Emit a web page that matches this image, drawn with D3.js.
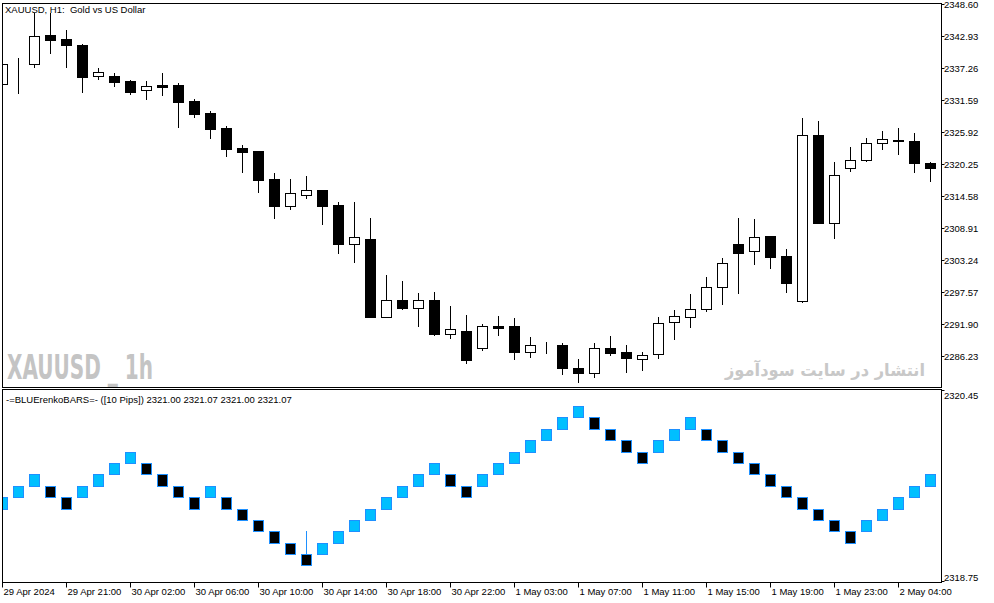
<!DOCTYPE html>
<html>
<head>
<meta charset="utf-8">
<script src="https://cdn.jsdelivr.net/npm/d3@7"></script>
<style>
  body { margin: 0; background: #fff; }
  svg text { font-family: 'Liberation Sans', Arial, sans-serif; font-size: 9.5px; fill: #000; white-space: pre; }
</style>
</head>
<body>
<div id="chart"></div>
<script>
// XAUUSD H1 candles
const candleOpen = [
  2334.30, 2338.12, 2337.84, 2343.08, 2342.32, 2341.31, 2335.83, 2335.77, 2334.89, 2333.24,
  2334.18, 2334.18, 2331.35, 2329.23, 2326.57, 2323.03, 2322.50, 2317.55, 2312.83, 2314.77,
  2315.60, 2312.95, 2306.10, 2306.93, 2293.19, 2296.09, 2294.78, 2296.09, 2290.18, 2290.66,
  2287.70, 2291.54, 2291.54, 2286.89, 2288.12, 2288.18, 2284.06, 2283.28, 2287.60, 2286.94,
  2285.75, 2286.53, 2292.20, 2293.19, 2294.60, 2298.39, 2306.00, 2304.76, 2307.41, 2303.93,
  2295.91, 2325.33, 2309.82, 2319.44, 2320.86, 2323.87, 2324.40, 2324.27, 2320.33
];
const candleHigh = [
  2338.25, 2338.90, 2346.87, 2346.87, 2343.91, 2341.35, 2337.14, 2336.25, 2335.07, 2334.89,
  2336.25, 2334.53, 2331.70, 2329.58, 2326.93, 2323.56, 2322.55, 2318.61, 2317.55, 2318.08,
  2315.65, 2313.43, 2313.43, 2310.65, 2300.56, 2299.50, 2297.33, 2297.50, 2295.08, 2293.49,
  2291.95, 2293.31, 2292.96, 2289.60, 2288.71, 2288.53, 2285.70, 2288.53, 2289.77, 2288.18,
  2286.94, 2293.19, 2294.32, 2297.15, 2300.21, 2303.57, 2310.65, 2310.47, 2307.45, 2305.16,
  2328.34, 2327.86, 2320.56, 2323.16, 2324.75, 2325.99, 2326.52, 2325.63, 2320.61
];
const candleLow = [
  2333.83, 2332.82, 2337.42, 2339.79, 2337.42, 2333.00, 2335.30, 2334.00, 2332.59, 2331.70,
  2332.41, 2326.80, 2328.47, 2324.86, 2321.67, 2318.84, 2315.30, 2310.70, 2312.29, 2314.24,
  2309.64, 2304.51, 2302.92, 2293.15, 2293.15, 2294.60, 2291.59, 2290.00, 2289.47, 2285.05,
  2287.29, 2290.00, 2285.70, 2286.11, 2286.82, 2283.05, 2281.63, 2282.57, 2286.46, 2283.46,
  2283.75, 2285.83, 2289.19, 2291.42, 2294.25, 2295.38, 2297.43, 2302.56, 2301.86, 2297.61,
  2295.73, 2309.80, 2307.06, 2319.02, 2320.80, 2322.91, 2321.92, 2318.84, 2317.25
];
const candleClose = [
  2337.84, 2338.14, 2342.85, 2342.19, 2341.31, 2335.65, 2336.48, 2334.76, 2333.00, 2333.95,
  2333.88, 2331.23, 2329.10, 2326.45, 2322.91, 2322.33, 2317.43, 2312.83, 2315.07, 2315.60,
  2312.83, 2306.10, 2307.23, 2293.19, 2296.09, 2294.78, 2296.09, 2290.18, 2290.96, 2285.53,
  2291.54, 2291.24, 2286.99, 2288.13, 2288.14, 2284.16, 2283.28, 2287.60, 2286.82, 2285.93,
  2286.36, 2292.02, 2293.26, 2294.60, 2298.39, 2302.63, 2304.51, 2307.23, 2303.80, 2299.20,
  2325.28, 2309.82, 2318.20, 2320.86, 2323.87, 2324.57, 2324.22, 2320.33, 2319.55
];

// BLUErenkoBARS indicator bricks (one per bar)
const renkoOpen = [
  2319.40, 2319.50, 2319.60, 2319.60, 2319.50, 2319.50, 2319.60, 2319.70, 2319.80, 2319.80,
  2319.70, 2319.60, 2319.50, 2319.50, 2319.50, 2319.40, 2319.30, 2319.20, 2319.10, 2319.00,
  2319.00, 2319.10, 2319.20, 2319.30, 2319.40, 2319.50, 2319.60, 2319.70, 2319.70, 2319.60,
  2319.60, 2319.70, 2319.80, 2319.90, 2320.00, 2320.10, 2320.20, 2320.20, 2320.10, 2320.00,
  2319.90, 2319.90, 2320.00, 2320.10, 2320.10, 2320.00, 2319.90, 2319.80, 2319.70, 2319.60,
  2319.50, 2319.40, 2319.30, 2319.20, 2319.20, 2319.30, 2319.40, 2319.50, 2319.60
];
const renkoClose = [
  2319.50, 2319.60, 2319.70, 2319.50, 2319.40, 2319.60, 2319.70, 2319.80, 2319.90, 2319.70,
  2319.60, 2319.50, 2319.40, 2319.60, 2319.40, 2319.30, 2319.20, 2319.10, 2319.00, 2318.90,
  2319.10, 2319.20, 2319.30, 2319.40, 2319.50, 2319.60, 2319.70, 2319.80, 2319.60, 2319.50,
  2319.70, 2319.80, 2319.90, 2320.00, 2320.10, 2320.20, 2320.30, 2320.10, 2320.00, 2319.90,
  2319.80, 2320.00, 2320.10, 2320.20, 2320.00, 2319.90, 2319.80, 2319.70, 2319.60, 2319.50,
  2319.40, 2319.30, 2319.20, 2319.10, 2319.30, 2319.40, 2319.50, 2319.60, 2319.70
];
// only one brick shows a wick
const renkoWick = [{ bar: 19, high: 2319.20 }];

const priceTicks = [2348.60, 2342.93, 2337.26, 2331.59, 2325.92, 2320.25, 2314.58, 2308.91, 2303.24, 2297.57, 2291.90, 2286.23];
const renkoTicks = [2320.45, 2318.75];
const timeTickBars = [0, 4, 8, 12, 16, 20, 24, 28, 32, 36, 40, 44, 48, 52, 56];
const timeTickLabels = [
  '29 Apr 2024', '29 Apr 21:00', '30 Apr 02:00', '30 Apr 06:00', '30 Apr 10:00',
  '30 Apr 14:00', '30 Apr 18:00', '30 Apr 22:00', '1 May 03:00', '1 May 07:00',
  '1 May 11:00', '1 May 15:00', '1 May 19:00', '1 May 23:00', '2 May 04:00'
];

const width = 994;
const height = 603;
const plotLeft = 2.5;
const plotRight = 941.5;
const main = { top: 3.5, bottom: 387.5 };
const sub = { top: 389.5, bottom: 582.5 };
const bodyHalf = 5;

const candles = candleOpen.map((o, i) => ({
  i, open: o, high: candleHigh[i], low: candleLow[i], close: candleClose[i],
}));
const bricks = renkoOpen.map((o, i) => ({ i, open: o, close: renkoClose[i] }));

const svg = d3.select('#chart')
  .append('svg')
  .attr('width', width)
  .attr('height', height);

svg.append('rect').attr('width', width).attr('height', height).attr('fill', '#fff');

const x = d3.scaleLinear()
  .domain([0, candles.length - 1])
  .range([2.5, 2.5 + 16 * (candles.length - 1)]);

const y = d3.scaleLinear()
  .domain([2280.74, 2348.60])
  .range([387, 3.5]);

const yr = d3.scaleLinear()
  .domain([2318.75, 2320.45])
  .range([582.5, 389]);

const px = (v) => Math.round(v) + 0.5;

const defs = svg.append('defs');
defs.append('clipPath').attr('id', 'clip-main')
  .append('rect').attr('x', plotLeft).attr('y', main.top)
  .attr('width', plotRight - plotLeft).attr('height', main.bottom - main.top);
defs.append('clipPath').attr('id', 'clip-sub')
  .append('rect').attr('x', plotLeft).attr('y', sub.top)
  .attr('width', plotRight - plotLeft).attr('height', sub.bottom - sub.top);

// watermarks
svg.append('text')
  .attr('x', 7)
  .attr('y', 379)
  .attr('textLength', 146)
  .attr('lengthAdjust', 'spacingAndGlyphs')
  .style('font-family', "'Liberation Sans Narrow', 'DejaVu Sans Condensed', sans-serif")
  .style('font-weight', 'bold')
  .style('font-size', '33px')
  .style('fill', '#c4c4c4')
  .text('XAUUSD _ 1h');

svg.append('text')
  .attr('x', 925)
  .attr('y', 376)
  .attr('text-anchor', 'end')
  .attr('textLength', 200)
  .attr('lengthAdjust', 'spacingAndGlyphs')
  .style('font-family', "'DejaVu Sans', sans-serif")
  .style('font-weight', 'bold')
  .style('font-size', '17px')
  .style('fill', '#c8c8c8')
  .text('انتشار در سایت سودآموز');

// candles
const candleG = svg.append('g').attr('clip-path', 'url(#clip-main)');

candleG.selectAll('.wick')
  .data(candles)
  .enter()
  .append('line')
  .attr('class', 'wick')
  .attr('x1', (d) => x(d.i))
  .attr('x2', (d) => x(d.i))
  .attr('y1', (d) => Math.round(y(d.high)))
  .attr('y2', (d) => Math.round(y(d.low)) + 1)
  .attr('stroke', '#000')
  .attr('stroke-width', 1);

candleG.selectAll('.body')
  .data(candles)
  .enter()
  .append('rect')
  .attr('class', 'body')
  .attr('x', (d) => x(d.i) - bodyHalf)
  .attr('y', (d) => px(y(Math.max(d.open, d.close))))
  .attr('width', bodyHalf * 2)
  .attr('height', (d) => Math.round(y(Math.min(d.open, d.close))) - Math.round(y(Math.max(d.open, d.close))))
  .attr('fill', (d) => (d.close >= d.open ? '#fff' : '#000'))
  .attr('stroke', '#000')
  .attr('stroke-width', 1);

// renko bricks
const renkoG = svg.append('g').attr('clip-path', 'url(#clip-sub)');

renkoG.selectAll('.rwick')
  .data(renkoWick)
  .enter()
  .append('line')
  .attr('x1', (d) => x(d.bar))
  .attr('x2', (d) => x(d.bar))
  .attr('y1', (d) => Math.round(yr(d.high)))
  .attr('y2', (d) => Math.round(yr(Math.max(renkoOpen[d.bar], renkoClose[d.bar]))))
  .attr('stroke', '#1e90ff')
  .attr('stroke-width', 1);

renkoG.selectAll('.brick')
  .data(bricks)
  .enter()
  .append('rect')
  .attr('class', 'brick')
  .attr('x', (d) => x(d.i) - bodyHalf)
  .attr('y', (d) => px(yr(Math.max(d.open, d.close))))
  .attr('width', bodyHalf * 2)
  .attr('height', (d) => Math.round(yr(Math.min(d.open, d.close))) - Math.round(yr(Math.max(d.open, d.close))))
  .attr('fill', (d) => (d.close > d.open ? '#00bfff' : '#000'))
  .attr('stroke', '#1e90ff')
  .attr('stroke-width', 1);

// frames
const frame = svg.append('g')
  .attr('fill', 'none')
  .attr('stroke', '#000')
  .attr('stroke-width', 1);
frame.append('rect')
  .attr('x', plotLeft).attr('y', main.top)
  .attr('width', plotRight - plotLeft).attr('height', main.bottom - main.top);
frame.append('rect')
  .attr('x', plotLeft).attr('y', sub.top)
  .attr('width', plotRight - plotLeft).attr('height', sub.bottom - sub.top);

// price axis
const priceAxis = svg.append('g')
  .selectAll('g')
  .data(priceTicks)
  .enter()
  .append('g')
  .attr('transform', (d) => `translate(${plotRight},${px(y(d))})`);
priceAxis.append('line')
  .attr('x1', 0).attr('x2', 3)
  .attr('stroke', '#000');
priceAxis.append('text')
  .attr('x', 2.5)
  .attr('y', 3.5)
  .text((d) => d.toFixed(2));

const renkoAxis = svg.append('g')
  .selectAll('g')
  .data(renkoTicks)
  .enter()
  .append('g')
  .attr('transform', (d, i) => `translate(${plotRight},${i === 0 ? px(yr(d)) + 1 : px(yr(d)) - 2})`);
renkoAxis.append('line')
  .attr('x1', 0).attr('x2', 3)
  .attr('stroke', '#000');
renkoAxis.append('text')
  .attr('x', 2.5)
  .attr('y', (d, i) => (i === 0 ? 8 : -1))
  .text((d) => d.toFixed(2));

// time axis
const timeAxis = svg.append('g')
  .selectAll('g')
  .data(timeTickBars)
  .enter()
  .append('g')
  .attr('transform', (d) => `translate(${x(d)},${sub.bottom})`);
timeAxis.append('line')
  .attr('y1', 0).attr('y2', 5)
  .attr('stroke', '#000');
timeAxis.append('text')
  .attr('x', 1)
  .attr('y', 12.5)
  .text((d, i) => timeTickLabels[i]);

// titles
svg.append('text')
  .attr('x', 5)
  .attr('y', 13)
  .text('XAUUSD, H1:  Gold vs US Dollar');

svg.append('text')
  .attr('x', 6)
  .attr('y', 403)
  .text('-=BLUErenkoBARS=- ([10 Pips]) 2321.00 2321.07 2321.00 2321.07');
</script>
</body>
</html>
